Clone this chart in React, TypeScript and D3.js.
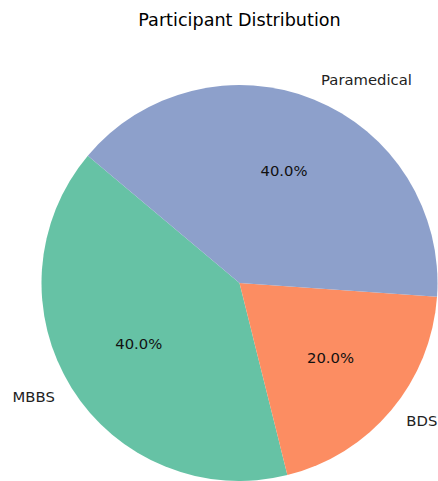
import React from "react";
import * as d3 from "d3";

const categories = ["MBBS", "BDS", "Paramedical"];
const values = [40, 20, 40];
const colors = ["#66c2a5", "#fc8d62", "#8da0cb"];
const title = "Participant Distribution";

const W = 438;
const H = 481;
const cx = 239.5;
const cy = 283;
const R = 198;
const startDeg = 140; // counter-clockwise from 3 o'clock

export default function App() {
  const total = d3.sum(values);
  // d3 angles: 0 at 12 o'clock, clockwise; go counter-clockwise from startDeg
  const a0 = ((90 - startDeg) * Math.PI) / 180;
  const pie = d3
    .pie<number>()
    .sort(null)
    .startAngle(a0)
    .endAngle(a0 - 2 * Math.PI)
    .value((d) => d);
  const arcs = pie(values);
  const arcGen = d3.arc<d3.PieArcDatum<number>>().innerRadius(0).outerRadius(R);

  const font = "'DejaVu Sans', sans-serif";
  const textShift = -2;

  return (
    <svg
      width={W}
      height={H}
      style={{ position: "absolute", left: 0, top: 0, background: "#fff" }}
    >
      <text
        x={cx}
        y={20}
        textAnchor="middle"
        dominantBaseline="central"
        fontFamily={font}
        fontSize={17.6}
        fill="#000"
      >
        {title}
      </text>
      <g transform={`translate(${cx},${cy})`}>
        {arcs.map((a, i) => (
          <path key={categories[i]} d={arcGen(a) || ""} fill={colors[i]} />
        ))}
        {arcs.map((a, i) => {
          const mid = (a.startAngle + a.endAngle) / 2;
          const sx = Math.sin(mid);
          const sy = -Math.cos(mid);
          const lx = sx * R * 1.1;
          const ly = sy * R * 1.1 + textShift;
          const px = sx * R * 0.6;
          const py = sy * R * 0.6 + textShift;
          return (
            <g key={"lbl" + i}>
              <text
                x={lx}
                y={ly}
                textAnchor={lx >= 0 ? "start" : "end"}
                dominantBaseline="central"
                fontFamily={font}
                fontSize={14.8}
                fill="#222"
              >
                {categories[i]}
              </text>
              <text
                x={px}
                y={py}
                textAnchor="middle"
                dominantBaseline="central"
                fontFamily={font}
                fontSize={14.8}
                fill="#111"
              >
                {((values[i] / total) * 100).toFixed(1)}%
              </text>
            </g>
          );
        })}
      </g>
    </svg>
  );
}
